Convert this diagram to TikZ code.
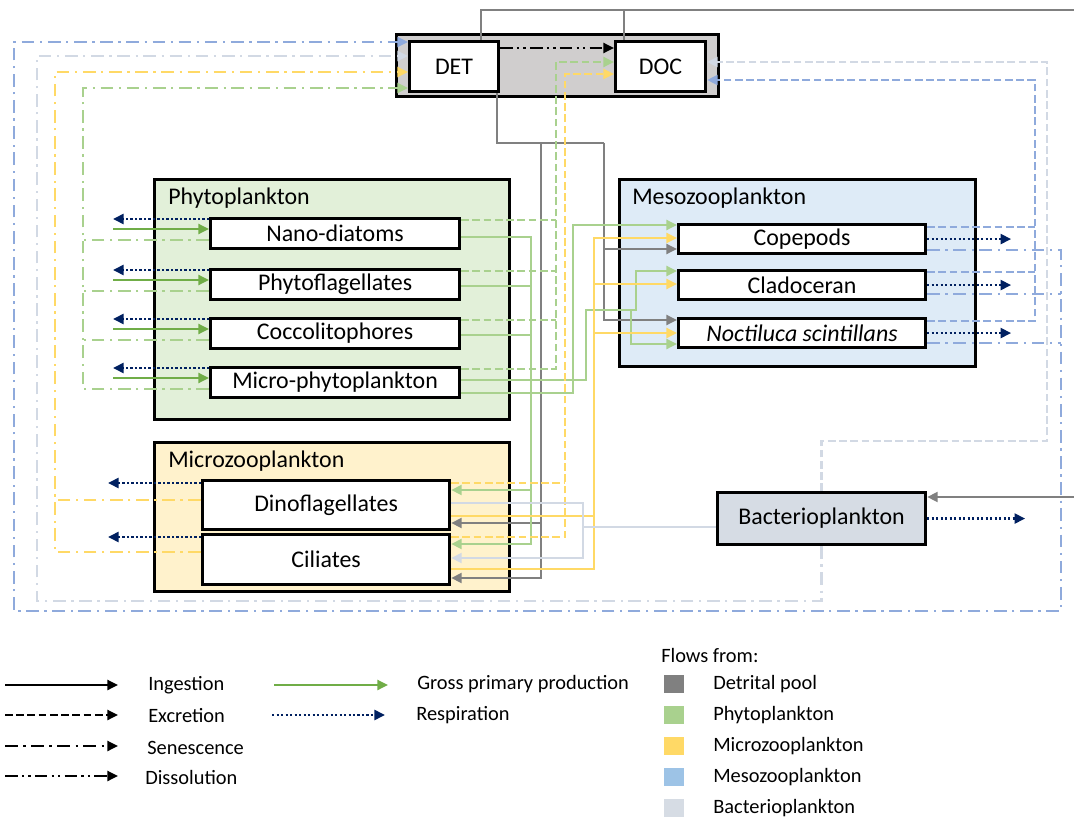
\documentclass[tikz,border=0pt]{standalone}
\usepackage{fontspec}
\setmainfont{Carlito}
\usepackage{tikz}
\usetikzlibrary{arrows.meta,positioning,calc}

\definecolor{detcol}{HTML}{808080}
\definecolor{phycol}{HTML}{A9D18E}
\definecolor{gppcol}{HTML}{70AD47}
\definecolor{mczcol}{HTML}{FFD966}
\definecolor{mszcol}{HTML}{8FAADC}
\definecolor{baccol}{HTML}{D2D9E4}
\definecolor{respcol}{HTML}{002060}
\definecolor{domfill}{HTML}{D0CECE}
\definecolor{phyfill}{HTML}{E2F0D9}
\definecolor{mszfill}{HTML}{DEEBF7}
\definecolor{mczfill}{HTML}{FFF2CC}
\definecolor{bacfill}{HTML}{D6DCE4}
\definecolor{legmsz}{HTML}{9DC3E6}

\begin{document}
\begin{tikzpicture}[x=0.025cm, y=-0.025cm,
  every node/.style={font=\fontsize{17}{20}\selectfont, inner sep=0pt},
  grp/.style={draw, line width=1.8pt, anchor=north west},
  box/.style={draw, fill=white, line width=2.2pt, anchor=north west},
  phybox/.style={box, minimum width=6.225cm, minimum height=0.75cm},
  mszbox/.style={box, minimum width=6.175cm, minimum height=0.725cm},
  title/.style={anchor=west},
  legtxt/.style={anchor=west, font=\fontsize{14.5}{17}\selectfont},
  legsq/.style={minimum width=0.5cm, minimum height=0.45cm},
  flow/.style={line width=1.7pt},
  ingest/.style={flow},
  excr/.style={flow, dash pattern=on 5.5pt off 2.5pt},
  senes/.style={flow, dash pattern=on 9pt off 4pt on 1.6pt off 4pt},
  dissol/.style={flow, dash pattern=on 9pt off 3pt on 1.6pt off 3pt on 1.6pt off 3pt},
  resp/.style={line width=2pt, respcol, dash pattern=on 1.6pt off 1.6pt},
  tip/.style={-{Triangle[length=7.5pt, width=7pt]}},
  tipin/.style={{Triangle[length=7.5pt, width=7pt]}-}]

  \useasboundingbox (0,0) rectangle (1074,821);

  % Dissolved / detrital organic matter
  \node[box, fill=domfill, minimum width=8.05cm, minimum height=1.55cm] (dom) at (395,33) {};
  \node[box, minimum width=2.225cm, minimum height=1.25cm] (det) at (408,40) {DET};
  \node[box, minimum width=2.25cm, minimum height=1.25cm] (doc) at (614,40) {DOC};

  % Phytoplankton
  \node[grp, fill=phyfill, minimum width=8.875cm, minimum height=6cm] (phyGrp) at (153,178) {};
  \node[title] (phyTitle) at (168,198) {Phytoplankton};
  \node[phybox] (nano) at (209,217) {Nano-diatoms};
  \node[phybox] (phyf) at (209,268) {Phytoflagellates};
  \node[phybox] (cocc) at (209,317) {Coccolitophores};
  \node[phybox] (mphy) at (209,366) {Micro-phytoplankton};

  % Mesozooplankton
  \node[grp, fill=mszfill, minimum width=8.9cm, minimum height=4.675cm] (mszGrp) at (618,178) {};
  \node[title] (mszTitle) at (632,198) {Mesozooplankton};
  \node[mszbox] (cope) at (677,223) {Copepods};
  \node[mszbox] (clad) at (677,269) {Cladoceran};
  \node[mszbox] (noct) at (677,317) {\textit{Noctiluca scintillans}};

  % Microzooplankton
  \node[grp, fill=mczfill, minimum width=8.875cm, minimum height=3.725cm] (mczGrp) at (153,441) {};
  \node[title] (mczTitle) at (168,461) {Microzooplankton};
  \node[box, minimum width=6.175cm, minimum height=1.225cm] (dino) at (201,479) {Dinoflagellates};
  \node[box, minimum width=6.175cm, minimum height=1.25cm] (cili) at (201,533) {Ciliates};

  % Bacterioplankton
  \node[box, fill=bacfill, minimum width=5.2cm, minimum height=1.3cm] (bac) at (716,491) {Bacterioplankton};

  % Detrital pool flows
  \draw[ingest, detcol] (det.north -| 481,0) |- (1074,10);
  \draw[ingest, detcol] (doc.north -| 624,0) -- (624,10);
  \draw[ingest, detcol, tip] (1074,497) -- (bac.east |- 0,497);
  \draw[ingest, detcol] (det.south -| 497,0) |- (604,143);
  \draw[ingest, detcol, tip] (604,143) |- (cope.west |- 0,249);
  \draw[ingest, detcol, tip] (604,249) |- (noct.west |- 0,320);
  \draw[ingest, detcol, tip] (541,143) |- (cili.east |- 0,578);
  \draw[ingest, detcol, tip] (541,523) -- (dino.east |- 0,523);
  \draw[dissol, black, tip] (det.east |- 0,48) -- (doc.west |- 0,48);

  % Phytoplankton flows
  \draw[resp, tip] (nano.west |- 0,219) -- +(-96,0);
  \draw[resp, tip] (phyf.west |- 0,270) -- +(-96,0);
  \draw[resp, tip] (cocc.west |- 0,319) -- +(-96,0);
  \draw[resp, tip] (mphy.west |- 0,368) -- +(-96,0);
  \draw[flow, gppcol, tipin] (nano.west |- 0,229) -- +(-96,0);
  \draw[flow, gppcol, tipin] (phyf.west |- 0,280) -- +(-96,0);
  \draw[flow, gppcol, tipin] (cocc.west |- 0,329) -- +(-96,0);
  \draw[flow, gppcol, tipin] (mphy.west |- 0,378) -- +(-96,0);
  \draw[senes, phycol, tip] (mphy.west |- 0,389) -| (83,88) -- (det.west |- 0,88);
  \draw[senes, phycol] (nano.west |- 0,240) -- (83,240);
  \draw[senes, phycol] (phyf.west |- 0,291) -- (83,291);
  \draw[senes, phycol] (cocc.west |- 0,340) -- (83,340);
  \draw[excr, phycol, tip] (mphy.east |- 0,369) -| (556,62) -- (doc.west |- 0,62);
  \draw[excr, phycol] (nano.east |- 0,220) -- (556,220);
  \draw[excr, phycol] (phyf.east |- 0,271) -- (556,271);
  \draw[excr, phycol] (cocc.east |- 0,320) -- (556,320);
  \draw[ingest, phycol, tip] (nano.east |- 0,237) -| (531,544) -- (cili.east |- 0,544);
  \draw[ingest, phycol] (phyf.east |- 0,286) -- (531,286);
  \draw[ingest, phycol] (cocc.east |- 0,335) -- (531,335);
  \draw[ingest, phycol, tip] (531,490) -- (dino.east |- 0,490);
  \draw[ingest, phycol, tip] (mphy.east |- 0,393) -| (573,225) -- (cope.west |- 0,225);
  \draw[ingest, phycol, tip] (mphy.east |- 0,380) -| (586,310) -| (636,271) -- (clad.west |- 0,271);
  \draw[ingest, phycol, tip] (631,310) |- (noct.west |- 0,344);

  % Microzooplankton flows
  \draw[resp, tip] (dino.west |- 0,483) -- +(-93,0);
  \draw[resp, tip] (cili.west |- 0,537) -- +(-93,0);
  \draw[senes, mczcol, tip] (cili.west |- 0,552) -| (55,72) -- (det.west |- 0,72);
  \draw[senes, mczcol] (dino.west |- 0,500) -- (55,500);
  \draw[excr, mczcol, tip] (cili.east |- 0,537) -| (565,74) -- (doc.west |- 0,74);
  \draw[excr, mczcol] (dino.east |- 0,483) -- (565,483);
  \draw[ingest, mczcol, tip] (cili.east |- 0,569) -| (594,238) -- (cope.west |- 0,238);
  \draw[ingest, mczcol] (dino.east |- 0,516) -- (594,516);
  \draw[ingest, mczcol, tip] (594,284) -- (clad.west |- 0,284);
  \draw[ingest, mczcol, tip] (594,333) -- (noct.west |- 0,333);

  % Mesozooplankton flows
  \draw[resp, tip] (cope.east) -- +(84,0);
  \draw[resp, tip] (clad.east) -- +(84,0);
  \draw[resp, tip] (noct.east) -- +(84,0);
  \draw[excr, mszcol, tip] (noct.east |- 0,321) -| (1035,80) -- (doc.east |- 0,80);
  \draw[excr, mszcol] (cope.east |- 0,227) -- (1035,227);
  \draw[excr, mszcol] (clad.east |- 0,272) -- (1035,272);
  \draw[senes, mszcol, tip] (cope.east |- 0,250) -| (1061,611) -| (14,42) -- (det.west |- 0,42);
  \draw[senes, mszcol] (clad.east |- 0,294) -- (1061,294);
  \draw[senes, mszcol] (noct.east |- 0,343) -- (1061,343);

  % Bacterioplankton flows
  \draw[resp, tip] (bac.east) -- +(98,0);
  \draw[ingest, baccol] (bac.west |- 0,527) -- (583,527);
  \draw[ingest, baccol, tipin, tip] (dino.east |- 0,503) -| (583,558) -- (cili.east |- 0,558);
  \draw[senes, baccol, tip] (bac.south) |- (37,601) |- (det.west |- 0,56);
  \draw[excr, baccol, tip] (bac.north) |- (1047,441) |- (doc.east |- 0,62);

  % Legend: flow types
  \node[legtxt] (lgIng) at (148,685) {Ingestion};
  \node[legtxt] (lgExc) at (148,716) {Excretion};
  \node[legtxt] (lgSen) at (147,748) {Senescence};
  \node[legtxt] (lgDis) at (145,777) {Dissolution};
  \node[legtxt] (lgGpp) at (417,684) {Gross primary production};
  \node[legtxt] (lgRes) at (416,715) {Respiration};
  \draw[ingest, black, tip] (5,685) -- (118,685);
  \draw[excr, black, tip] (5,715) -- (118,715);
  \draw[senes, black, tip] (5,746) -- (118,746);
  \draw[dissol, black, tip] (5,776) -- (118,776);
  \draw[flow, gppcol, tip] (274,685) -- (388,685);
  \draw[resp, tip] (272,715) -- (385,715);

  % Legend: flows from
  \node[legtxt] (lgFrom) at (661,655) {Flows from:};
  \node[legsq, fill=detcol] (sqDet) at (674,684) {};
  \node[legsq, fill=phycol] (sqPhy) at (674,715) {};
  \node[legsq, fill=mczcol] (sqMcz) at (674,746) {};
  \node[legsq, fill=legmsz] (sqMsz) at (674,777) {};
  \node[legsq, fill=bacfill] (sqBac) at (674,808) {};
  \node[legtxt] (lbDet) at (713,684) {Detrital pool};
  \node[legtxt] (lbPhy) at (713,715) {Phytoplankton};
  \node[legtxt] (lbMcz) at (713,746) {Microzooplankton};
  \node[legtxt] (lbMsz) at (713,777) {Mesozooplankton};
  \node[legtxt] (lbBac) at (713,808) {Bacterioplankton};
\end{tikzpicture}
\end{document}
